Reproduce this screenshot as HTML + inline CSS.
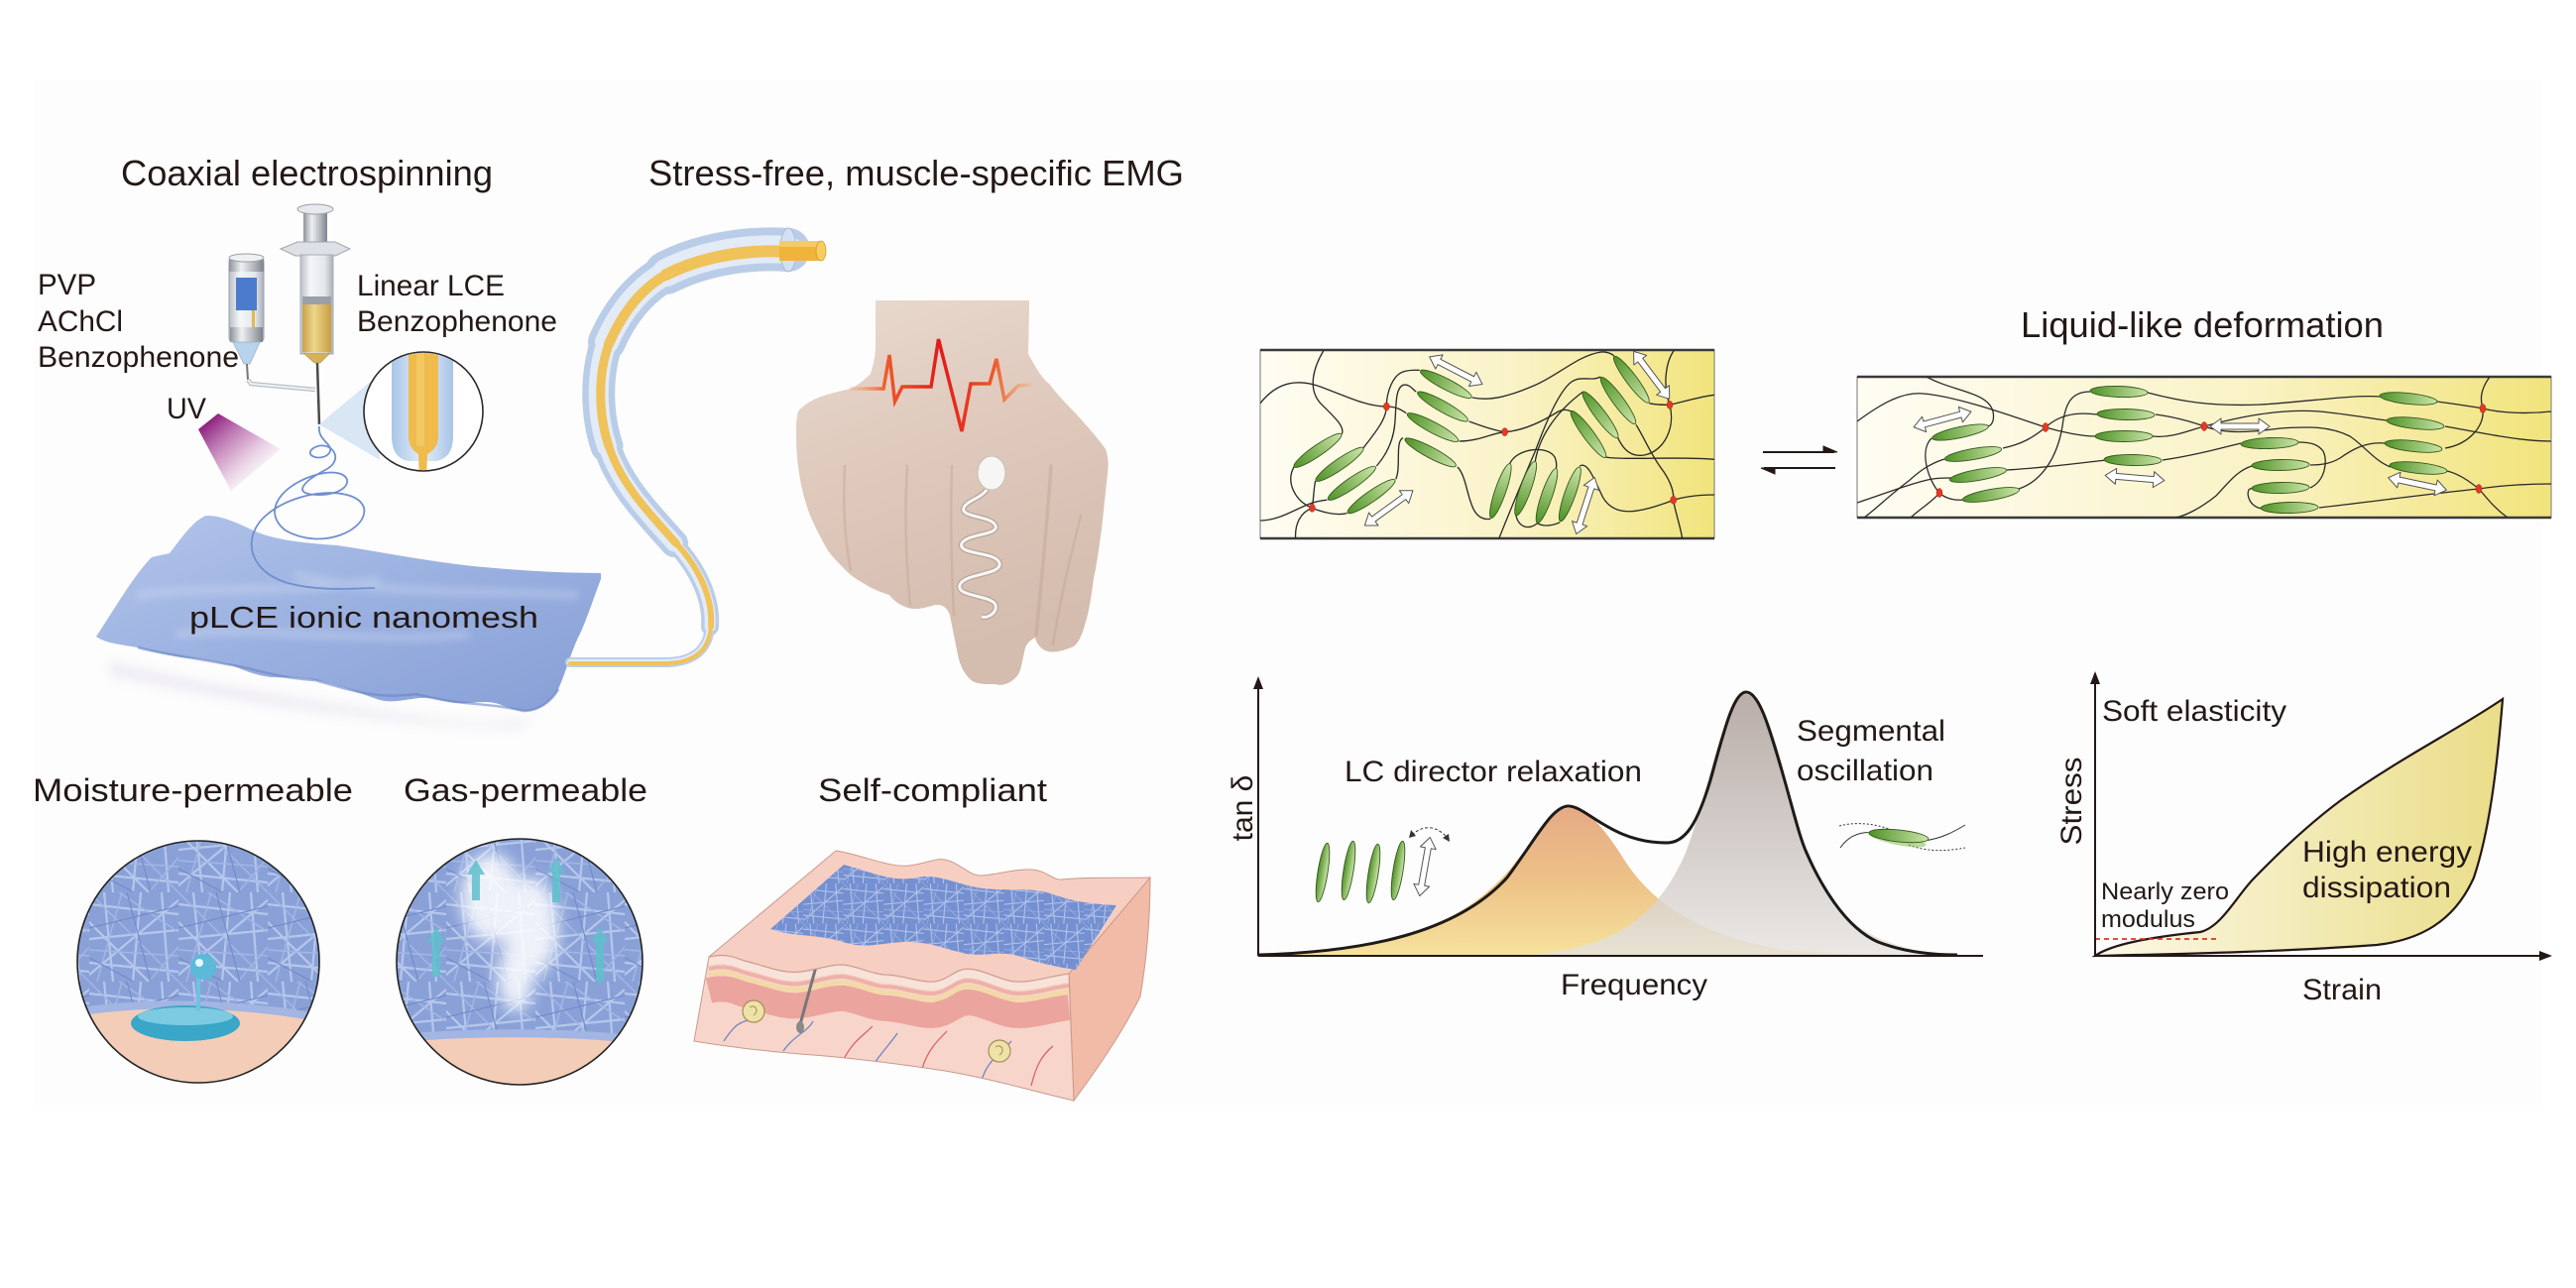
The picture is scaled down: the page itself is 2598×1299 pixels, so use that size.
<!DOCTYPE html>
<html>
<head>
<meta charset="utf-8">
<style>
html,body{margin:0;padding:0;background:#fff;}
svg{display:block;}
text{font-family:"Liberation Sans",Arial,sans-serif;fill:#231815;}
</style>
</head>
<body>
<svg xmlns="http://www.w3.org/2000/svg" xmlns:xlink="http://www.w3.org/1999/xlink" width="2598" height="1299" viewBox="0 0 2598 1299">
<defs>
  <linearGradient id="boxG" x1="0" x2="1" y1="0" y2="0">
    <stop offset="0" stop-color="#fffdf3"/><stop offset="0.55" stop-color="#faf3c8"/><stop offset="1" stop-color="#f1e47c"/>
  </linearGradient>
  <linearGradient id="eg" x1="0" x2="1" y1="0" y2="0">
    <stop offset="0" stop-color="#4e9226"/><stop offset="1" stop-color="#cbe5a8"/>
  </linearGradient>
  <linearGradient id="og" x1="0" y1="0" x2="0" y2="1">
    <stop offset="0" stop-color="#e6aa85"/><stop offset="0.5" stop-color="#edc287"/><stop offset="1" stop-color="#f6e29c"/>
  </linearGradient>
  <linearGradient id="gg" x1="0" y1="0" x2="0" y2="1">
    <stop offset="0" stop-color="#aa9c96"/><stop offset="1" stop-color="#e6e3e0"/>
  </linearGradient>
  <linearGradient id="sg" x1="0" x2="1" y1="0" y2="0">
    <stop offset="0" stop-color="#fcf9e8"/><stop offset="1" stop-color="#eadd88"/>
  </linearGradient>
  <linearGradient id="metal" x1="0" x2="1" y1="0" y2="0">
    <stop offset="0" stop-color="#8e949c"/><stop offset="0.35" stop-color="#eef0f2"/><stop offset="0.7" stop-color="#b4b9c0"/><stop offset="1" stop-color="#7d838b"/>
  </linearGradient>
  <linearGradient id="glass" x1="0" x2="1" y1="0" y2="0">
    <stop offset="0" stop-color="#b9bfc6"/><stop offset="0.3" stop-color="#f4f6f8"/><stop offset="0.75" stop-color="#e3e7eb"/><stop offset="1" stop-color="#a9afb7"/>
  </linearGradient>
  <linearGradient id="yel" x1="0" x2="1" y1="0" y2="0">
    <stop offset="0" stop-color="#caa24a"/><stop offset="0.4" stop-color="#ecd58a"/><stop offset="1" stop-color="#c99d42"/>
  </linearGradient>
  <linearGradient id="tubeB" x1="0" x2="1" y1="0" y2="0">
    <stop offset="0" stop-color="#a9c5e8"/><stop offset="0.5" stop-color="#e4edf8"/><stop offset="1" stop-color="#a9c5e8"/>
  </linearGradient>
  <linearGradient id="uv" x1="0.1" y1="0.1" x2="0.85" y2="0.9">
    <stop offset="0" stop-color="#8b1b7d"/><stop offset="0.5" stop-color="#c27ab5" stop-opacity="0.6"/><stop offset="1" stop-color="#f3e3f0" stop-opacity="0"/>
  </linearGradient>
  <linearGradient id="mesh" x1="0" y1="0" x2="1" y2="1">
    <stop offset="0" stop-color="#b2c5ea"/><stop offset="0.5" stop-color="#9ab0e0"/><stop offset="1" stop-color="#879fd6"/>
  </linearGradient>
  <linearGradient id="skin" x1="0" y1="0" x2="0.3" y2="1">
    <stop offset="0" stop-color="#e9dacf"/><stop offset="0.45" stop-color="#dfcabd"/><stop offset="1" stop-color="#d4bcae"/>
  </linearGradient>
  <radialGradient id="skinSh" cx="0.85" cy="0.72" r="0.45">
    <stop offset="0" stop-color="#b8937f" stop-opacity="0.45"/><stop offset="1" stop-color="#b8937f" stop-opacity="0"/>
  </radialGradient>
  <linearGradient id="emg" x1="0" x2="1" y1="0" y2="0">
    <stop offset="0" stop-color="#f6a86a" stop-opacity="0.3"/><stop offset="0.2" stop-color="#ee5a2a"/><stop offset="0.5" stop-color="#e4191a"/><stop offset="0.8" stop-color="#ee5a2a"/><stop offset="1" stop-color="#f6a86a" stop-opacity="0.3"/>
  </linearGradient>
  <pattern id="fib" width="90" height="90" patternUnits="userSpaceOnUse">
    <rect width="90" height="90" fill="#8aa1d8"/>
    <g fill="none" stroke-linecap="round">
      <path d="M0,12 L90,22 M0,47 L90,38 M0,71 L90,80 M15,0 L24,90 M52,0 L44,90 M73,0 L80,90 M0,83 L90,8 M0,30 L60,90" stroke="#b6c7ec" stroke-width="2.2"/>
      <path d="M0,0 L90,90 M0,58 L90,64 M33,0 L8,90 M90,40 L30,0 M60,90 L90,55" stroke="#a3b6e4" stroke-width="1.5"/>
      <path d="M0,36 L90,14 M38,0 L62,90 M0,66 L45,90" stroke="#7189c8" stroke-width="1.1"/>
    </g>
  </pattern>
  <pattern id="fib2" width="90" height="90" patternUnits="userSpaceOnUse" patternTransform="scale(0.45)">
    <rect width="90" height="90" fill="#7590d0"/>
    <g fill="none">
      <path d="M0,12 L90,22 M0,47 L90,38 M0,71 L90,80 M15,0 L24,90 M52,0 L44,90 M73,0 L80,90 M0,83 L90,8" stroke="#b3c4ec" stroke-width="2.4"/>
      <path d="M0,0 L90,90 M0,58 L90,64 M33,0 L8,90" stroke="#9db1e2" stroke-width="1.6"/>
    </g>
  </pattern>
  <filter id="blur6" x="-20%" y="-50%" width="140%" height="200%"><feGaussianBlur stdDeviation="6"/></filter>
  <filter id="blur4" x="-20%" y="-50%" width="140%" height="200%"><feGaussianBlur stdDeviation="4"/></filter>
  <filter id="blur8" x="-50%" y="-50%" width="200%" height="200%"><feGaussianBlur stdDeviation="8"/></filter>
  <path id="dbl" d="M-30,0 L-19,-8 L-19,-3 L19,-3 L19,-8 L30,0 L19,8 L19,3 L-19,3 L-19,8 Z" fill="#fff" stroke="#555" stroke-width="1" stroke-linejoin="round"/>
  <ellipse id="el" cx="0" cy="0" rx="29" ry="5.5" fill="url(#eg)" stroke="#35561e" stroke-width="0.9"/>
  <clipPath id="lbClip"><rect x="18" y="25" width="1374" height="570"/></clipPath>
  <clipPath id="rbClip"><rect x="1873" y="380" width="700" height="142"/></clipPath>
  <clipPath id="mag"><circle cx="427" cy="415" r="59"/></clipPath>
  <clipPath id="c1"><circle cx="200" cy="970" r="122"/></clipPath>
  <clipPath id="c2"><circle cx="524" cy="970" r="124"/></clipPath>
  <clipPath id="front"><path d="M715,965 C735,960 745,968 755,970 C775,975 790,982 807,980 C825,978 838,972 851,973 C868,975 880,983 895,983 C912,984 925,990 939,990 C955,990 962,978 975,977 C992,977 1010,990 1027,990 C1045,990 1060,984 1078,982 L1083,1110 C1040,1100 1000,1088 953,1080 C900,1072 850,1066 807,1063 C770,1060 730,1055 700,1050 Z"/></clipPath>
</defs>

<rect x="34" y="80" width="2530" height="1040" fill="#fdfdfd"/>

<text x="122" y="187" font-size="36" textLength="375" lengthAdjust="spacingAndGlyphs">Coaxial electrospinning</text>
<text x="654" y="187" font-size="36" textLength="540" lengthAdjust="spacingAndGlyphs">Stress-free, muscle-specific EMG</text>
<text x="38" y="297" font-size="30" textLength="59" lengthAdjust="spacingAndGlyphs">PVP</text>
<text x="38" y="334" font-size="30" textLength="86" lengthAdjust="spacingAndGlyphs">AChCl</text>
<text x="38" y="370" font-size="30" textLength="203" lengthAdjust="spacingAndGlyphs">Benzophenone</text>
<text x="360" y="298" font-size="30" textLength="149" lengthAdjust="spacingAndGlyphs">Linear LCE</text>
<text x="360" y="334" font-size="30" textLength="202" lengthAdjust="spacingAndGlyphs">Benzophenone</text>
<text x="168" y="422" font-size="30" textLength="40" lengthAdjust="spacingAndGlyphs">UV</text>

<polygon points="200,433 220,417 283,453 233,495" fill="url(#uv)"/>

<rect x="231" y="260" width="35" height="85" rx="4" fill="url(#glass)" stroke="#9aa0a8" stroke-width="1"/>
<rect x="231" y="260" width="35" height="14" fill="url(#metal)"/>
<ellipse cx="248.5" cy="260" rx="17.5" ry="4" fill="#eef0f2" stroke="#9aa0a8"/>
<rect x="238" y="280" width="21" height="33" fill="#4d7bcc"/>
<rect x="254" y="313" width="3" height="18" fill="#e2b84e"/>
<rect x="232" y="330" width="33" height="15" fill="url(#metal)"/>
<path d="M235,345 L262,345 L252,367 L246,367 Z" fill="#b8d4ec" stroke="#9ab0c8" stroke-width="0.8"/>
<line x1="249" y1="367" x2="250" y2="383" stroke="#777" stroke-width="2"/>
<path d="M250,383 L253,387 L318,393" fill="none" stroke="#b9bfc6" stroke-width="4.5"/>
<path d="M250,383 L253,387 L318,393" fill="none" stroke="#eef1f4" stroke-width="2"/>
<rect x="306" y="212" width="24" height="40" fill="url(#metal)"/>
<ellipse cx="318" cy="211" rx="18" ry="5" fill="#e7e9ec" stroke="#9aa0a8"/>
<path d="M283,251 L300,244 L338,244 L353,251 L338,258 L298,258 Z" fill="#dde1e6" stroke="#a0a6ae"/>
<rect x="303" y="257" width="33" height="100" fill="url(#glass)" stroke="#a8aeb6" stroke-width="1"/>
<rect x="305" y="299" width="29" height="8" fill="#9aa0a8"/>
<rect x="305" y="307" width="29" height="48" fill="url(#yel)"/>
<path d="M306,356 L333,356 L323,366 L317,366 Z" fill="#d4b15a" stroke="#b0944a" stroke-width="0.6"/>
<line x1="320" y1="366" x2="322" y2="428" stroke="#4a4a4a" stroke-width="2.5"/>

<polygon points="322,428 378,381 383,464" fill="#cfe1f2" opacity="0.8"/>
<circle cx="427" cy="415" r="60" fill="#fff"/>
<g clip-path="url(#mag)">
  <path d="M395,340 L395,440 Q395,462 412,465 L440,465 Q457,462 457,440 L457,340 Z" fill="url(#tubeB)"/>
  <path d="M412,340 L412,440 Q412,452 422,458 L423,485 L430,485 L431,458 Q442,452 442,440 L442,340 Z" fill="#eebb4c"/>
  <rect x="420" y="340" width="8" height="110" fill="#f4cd6e" opacity="0.7"/>
</g>
<circle cx="427" cy="415" r="60" fill="none" stroke="#2a2a2a" stroke-width="1.6"/>

<path d="M110,668 C200,690 300,705 420,722 C480,730 530,735 560,712 L520,735 C420,732 250,712 110,680 Z" fill="#c4bbd8" opacity="0.3" filter="url(#blur6)"/>
<path id="sheetP" d="M97,642 C115,615 135,580 153,562 L171,558 C185,540 195,525 208,520 C225,520 240,528 260,537 C280,545 310,548 340,550 C380,556 420,564 460,569 C500,574 560,578 606,578 L606,584 C598,605 590,630 583,643 C575,660 570,680 563,695 C555,710 540,718 528,717 C510,715 505,708 490,708 C470,708 465,712 440,705 C420,700 400,712 380,705 C360,698 340,690 318,686 C295,682 290,684 273,683 C250,680 240,672 229,670 C210,666 200,664 184,663 C165,660 150,656 139,653 C120,650 105,648 97,642 Z" fill="url(#mesh)"/>
<use xlink:href="#sheetP" fill="url(#fib)" opacity="0.22"/>
<g fill="none" stroke="#e4ebf8" stroke-width="8" opacity="0.3" stroke-linecap="round" filter="url(#blur4)">
  <path d="M140,600 C220,590 300,600 380,585"/>
  <path d="M180,640 C260,630 360,650 470,640"/>
  <path d="M300,580 C380,600 470,595 580,600"/>
</g>
<path d="M139,653 C165,660 200,664 229,670 C250,672 273,683 318,686 C360,698 380,705 420,700 C465,712 490,708 528,717 C545,717 558,705 563,695" fill="none" stroke="#6a86c6" stroke-width="2.5" opacity="0.6"/>
<text x="191" y="633" font-size="31" textLength="352" lengthAdjust="spacingAndGlyphs">pLCE ionic nanomesh</text>

<path d="M322,430 C320,445 338,448 332,457 C325,466 305,460 316,452 C332,442 350,463 328,474 C305,486 292,500 325,499 C360,497 358,470 322,478 C286,487 262,515 288,535 C325,556 372,534 367,512 C360,490 300,492 268,520 C245,540 248,575 290,588 C320,596 350,594 378,593" fill="none" stroke="#6f8fd0" stroke-width="1.8"/>

<g fill="none" stroke-linecap="round">
  <g stroke="#bacde8">
    <path d="M795,252 C750,249 705,258 672,275" stroke-width="44"/>
    <path d="M672,275 C645,290 625,315 612,345" stroke-width="38"/>
    <path d="M612,345 C600,380 602,420 612,450" stroke-width="33"/>
    <path d="M612,450 C625,490 655,520 680,548" stroke-width="28"/>
    <path d="M680,548 C705,575 718,605 716,632" stroke-width="18"/>
    <path d="M716,632 C714,655 700,668 670,668 L575,668" stroke-width="10"/>
  </g>
  <g stroke="#e3ebf6">
    <path d="M795,252 C750,249 705,258 672,275" stroke-width="28"/>
    <path d="M672,275 C645,290 625,315 612,345" stroke-width="24"/>
    <path d="M612,345 C600,380 602,420 612,450" stroke-width="20"/>
    <path d="M612,450 C625,490 655,520 680,548" stroke-width="17"/>
    <path d="M680,548 C705,575 718,605 716,632" stroke-width="11"/>
    <path d="M716,632 C714,655 700,668 670,668 L575,668" stroke-width="6"/>
  </g>
  <g stroke="#f0c25a">
    <path d="M795,254 C750,251 705,260 672,277" stroke-width="12"/>
    <path d="M672,277 C645,292 627,317 614,347" stroke-width="10"/>
    <path d="M614,347 C602,380 604,420 614,450" stroke-width="9"/>
    <path d="M614,450 C627,490 657,520 682,548" stroke-width="8"/>
    <path d="M682,548 C707,575 719,605 717,632" stroke-width="6"/>
    <path d="M717,632 C715,656 700,669 670,669 L575,669" stroke-width="4"/>
  </g>
</g>
<ellipse cx="795" cy="252" rx="8" ry="22" fill="#d3e0f1" stroke="#a9bcd8" stroke-width="1"/>
<rect x="786" y="243" width="42" height="20" fill="#f0b43a"/>
<rect x="786" y="243" width="42" height="6" fill="#f6cb63"/>
<ellipse cx="828" cy="253" rx="5" ry="10" fill="#f7cd62" stroke="#d89a2a" stroke-width="0.8"/>

<path id="handP" d="M883,303 L1038,303 L1037,357 C1045,372 1052,383 1058,387 C1068,400 1075,407 1081,413 C1095,428 1108,443 1115,453 C1118,462 1118,470 1117,477 L1111,533 C1108,555 1106,570 1103,583 C1100,605 1098,618 1094,630 C1090,645 1085,652 1080,653 C1070,657 1063,658 1057,657 C1050,655 1046,650 1044,643 C1040,645 1036,648 1034,653 C1031,665 1030,675 1027,680 C1020,690 1010,692 1004,690 C995,690 986,690 981,687 C972,680 968,670 966,660 L958,620 C955,612 950,609 943,610 C930,614 922,615 916,613 C906,610 900,604 897,600 C888,597 880,594 874,590 C865,585 857,580 851,573 C843,565 836,558 832,550 C825,537 820,527 816,517 C812,505 809,495 807,483 C804,467 803,450 803,433 C803,425 804,419 805,415 C812,407 820,403 828,400 C840,396 850,394 858,392 C866,388 872,383 878,377 C881,368 883,358 883,350 Z" fill="url(#skin)"/>
<use xlink:href="#handP" fill="url(#skinSh)"/>
<g fill="none" stroke="#bfa18f" stroke-linecap="round" opacity="0.4">
  <path d="M852,470 C850,510 852,545 858,575" stroke-width="2.5"/>
  <path d="M915,470 C912,520 914,570 918,610" stroke-width="2.5"/>
  <path d="M960,470 C958,530 960,580 962,620" stroke-width="2.5"/>
  <path d="M1060,470 C1056,530 1050,590 1045,640" stroke-width="3.5"/>
  <path d="M1090,520 C1080,560 1070,600 1062,650" stroke-width="2.5"/>
</g>
<polyline points="857,392 891,392 897,358 902.5,405 910,390 939,390 946.5,342 970,435 979,387 998,387 1005,362 1013,403 1027,389 1040,388" fill="none" stroke="url(#emg)" stroke-width="3.5" stroke-linejoin="miter"/>
<path d="M995,494 C990,502 975,505 972,512 C968,522 1000,520 1004,530 C1008,540 975,538 970,548 C965,560 1005,556 1008,568 C1011,580 972,578 968,590 C964,602 1000,600 1004,610 C1006,618 996,624 990,622" fill="none" stroke="#b7a69b" stroke-width="5.5"/>
<path d="M995,494 C990,502 975,505 972,512 C968,522 1000,520 1004,530 C1008,540 975,538 970,548 C965,560 1005,556 1008,568 C1011,580 972,578 968,590 C964,602 1000,600 1004,610 C1006,618 996,624 990,622" fill="none" stroke="#f7f7f5" stroke-width="3"/>
<ellipse cx="1000" cy="477" rx="14" ry="17" fill="#f6f6f4" stroke="#c8c0ba" stroke-width="1"/>

<text x="33" y="808" font-size="32" textLength="323" lengthAdjust="spacingAndGlyphs">Moisture-permeable</text>
<text x="407" y="808" font-size="32" textLength="246" lengthAdjust="spacingAndGlyphs">Gas-permeable</text>
<text x="825" y="808" font-size="32" textLength="231" lengthAdjust="spacingAndGlyphs">Self-compliant</text>

<g clip-path="url(#c1)">
  <rect x="70" y="840" width="260" height="260" fill="url(#fib)"/>
  <path d="M70,1022 C150,1008 250,1012 330,1028 L330,1100 L70,1100 Z" fill="#f3cdb8"/>
  <path d="M70,1022 C150,1008 250,1012 330,1028" fill="none" stroke="#a3b5e2" stroke-width="8"/>
  <ellipse cx="187" cy="1032" rx="55" ry="18" fill="#3aa6c8"/>
  <ellipse cx="187" cy="1025" rx="48" ry="9" fill="#8fd3ea" opacity="0.8"/>
  <line x1="200" y1="985" x2="200" y2="1020" stroke="#6cc4e2" stroke-width="4"/>
  <circle cx="205" cy="975" r="13" fill="#5bbad8"/>
  <circle cx="201" cy="971" r="4" fill="#e8f7fc"/>
</g>
<circle cx="200" cy="970" r="122" fill="none" stroke="#222" stroke-width="1.6"/>

<g clip-path="url(#c2)">
  <rect x="395" y="840" width="260" height="260" fill="url(#fib)"/>
  <path d="M395,1048 C470,1040 580,1040 655,1050 L655,1100 L395,1100 Z" fill="#f3cdb8"/>
  <path d="M395,1048 C470,1040 580,1040 655,1050" fill="none" stroke="#a3b5e2" stroke-width="8"/>
  <g fill="#ffffff" filter="url(#blur8)" opacity="0.85">
    <ellipse cx="495" cy="905" rx="30" ry="45"/>
    <ellipse cx="535" cy="935" rx="28" ry="50"/>
    <ellipse cx="520" cy="985" rx="18" ry="35"/>
  </g>
  <g fill="#5fc0cc" opacity="0.85">
    <path d="M436,985 L436,950 L431,950 L440,935 L449,950 L444,950 L444,985 Z"/>
    <path d="M476,908 L476,882 L471,882 L480,867 L489,882 L484,882 L484,908 Z"/>
    <path d="M557,910 L557,880 L552,880 L561,865 L570,880 L565,880 L565,910 Z"/>
    <path d="M601,990 L601,950 L596,950 L605,935 L614,950 L609,950 L609,990 Z"/>
  </g>
</g>
<circle cx="524" cy="970" r="124" fill="none" stroke="#222" stroke-width="1.6"/>

<path d="M1078,980 C1100,950 1135,905 1160,885 C1160,930 1156,970 1150,1005 C1130,1045 1105,1080 1083,1110 Z" fill="#f1bba8" stroke="#c99a8c" stroke-width="1"/>
<g clip-path="url(#front)">
  <rect x="690" y="950" width="400" height="170" fill="#f7d5ca"/>
  <g fill="none">
    <path d="M715,965 C735,960 745,968 755,970 C775,975 790,982 807,980 C825,978 838,972 851,973 C868,975 880,983 895,983 C912,984 925,990 939,990 C955,990 962,978 975,977 C992,977 1010,990 1027,990 C1045,990 1060,984 1078,982" transform="translate(0,34)" stroke="#eca49f" stroke-width="26"/>
    <path d="M715,965 C735,960 745,968 755,970 C775,975 790,982 807,980 C825,978 838,972 851,973 C868,975 880,983 895,983 C912,984 925,990 939,990 C955,990 962,978 975,977 C992,977 1010,990 1027,990 C1045,990 1060,984 1078,982" transform="translate(0,18)" stroke="#f3d9a8" stroke-width="5"/>
    <path d="M715,965 C735,960 745,968 755,970 C775,975 790,982 807,980 C825,978 838,972 851,973 C868,975 880,983 895,983 C912,984 925,990 939,990 C955,990 962,978 975,977 C992,977 1010,990 1027,990 C1045,990 1060,984 1078,982" transform="translate(0,12)" stroke="#eeb1a8" stroke-width="4"/>
    <path d="M715,965 C735,960 745,968 755,970 C775,975 790,982 807,980 C825,978 838,972 851,973 C868,975 880,983 895,983 C912,984 925,990 939,990 C955,990 962,978 975,977 C992,977 1010,990 1027,990 C1045,990 1060,984 1078,982" transform="translate(0,5)" stroke="#f8e3da" stroke-width="7"/>
  </g>
  <g fill="none" stroke-width="1.2">
    <path d="M730,1050 C740,1035 745,1030 760,1028 M790,1060 C800,1045 815,1040 820,1030" stroke="#6c7fc4"/>
    <path d="M850,1070 C860,1050 870,1045 880,1035 M930,1078 C935,1060 945,1050 955,1040 M1040,1095 C1045,1075 1050,1065 1062,1055" stroke="#d85a66"/>
    <path d="M880,1075 C890,1060 900,1050 905,1042 M990,1090 C995,1070 1010,1062 1020,1050" stroke="#6c7fc4"/>
  </g>
  <line x1="807" y1="1033" x2="829" y2="953" stroke="#777" stroke-width="3"/>
  <ellipse cx="807" cy="1036" rx="4" ry="6" fill="#8a8a8a"/>
  <circle cx="760" cy="1020" r="11" fill="#efe2a6" stroke="#a48d5c" stroke-width="1.2"/>
  <circle cx="1008" cy="1060" r="11" fill="#efe2a6" stroke="#a48d5c" stroke-width="1.2"/>
  <path d="M756,1016 C762,1012 766,1020 760,1024 M1004,1056 C1010,1052 1014,1060 1008,1064" fill="none" stroke="#a48d5c" stroke-width="1"/>
</g>
<path d="M715,965 C735,960 745,968 755,970 C775,975 790,982 807,980 C825,978 838,972 851,973 C868,975 880,983 895,983 C912,984 925,990 939,990 C955,990 962,978 975,977 C992,977 1010,990 1027,990 C1045,990 1060,984 1078,982 L1083,1110 C1040,1100 1000,1088 953,1080 C900,1072 850,1066 807,1063 C770,1060 730,1055 700,1050 Z" fill="none" stroke="#c99a8c" stroke-width="1"/>
<path d="M715,965 L843,858 C870,862 895,875 917,873 C935,871 943,865 953,867 C968,870 978,884 990,883 C1005,882 1025,876 1041,877 C1055,878 1062,888 1071,887 C1100,884 1130,886 1160,885 L1078,982 C1060,984 1045,990 1027,990 C1010,990 992,977 975,977 C962,978 955,990 939,990 C925,990 912,984 895,983 C880,983 868,975 851,973 C838,972 825,978 807,980 C790,982 775,975 755,970 C745,968 735,960 715,965 Z" fill="#f6cfc2" stroke="#c99a8c" stroke-width="1"/>
<path d="M777,937 L851,872 C880,880 900,890 925,885 C945,881 960,890 985,895 C1010,900 1040,893 1065,903 C1085,910 1105,912 1126,913 L1085,978 C1065,975 1050,972 1030,965 C1010,958 995,965 975,962 C955,958 940,950 915,950 C890,950 875,958 850,950 C825,942 800,945 777,937 Z" fill="url(#fib2)"/>

<text x="2038" y="340" font-size="36" textLength="366" lengthAdjust="spacingAndGlyphs">Liquid-like deformation</text>

<rect x="1271" y="353" width="458" height="190" fill="url(#boxG)" stroke="#777" stroke-width="1"/>
<line x1="1271" y1="353" x2="1729" y2="353" stroke="#3a3a3a" stroke-width="2.5"/>
<line x1="1271" y1="543" x2="1729" y2="543" stroke="#3a3a3a" stroke-width="2.5"/>
<g transform="translate(1265,345) scale(0.333333)">
  <g clip-path="url(#lbClip)" fill="none" stroke="#2a2a2a" stroke-width="4">
    <path d="M18,185 C70,120 130,110 200,135 C280,165 340,195 400,195 C430,195 445,205 460,215"/>
    <path d="M620,300 C680,300 720,275 758,272 C820,268 880,235 920,210 C935,202 950,205 960,210"/>
    <path d="M1062,348 C1120,358 1300,345 1392,355"/>
    <path d="M210,25 C180,75 160,140 200,185 C240,225 275,255 265,278"/>
    <path d="M120,378 C95,420 120,480 175,502 C215,518 255,525 280,518"/>
    <path d="M428,415 C445,380 425,300 450,290"/>
    <path d="M615,378 C655,420 640,545 715,535"/>
    <path d="M773,368 C795,320 890,310 910,350 C915,365 915,375 913,382"/>
    <path d="M857,548 C875,560 905,555 925,545"/>
    <path d="M985,375 C1010,360 1030,420 1055,470 C1090,530 1160,520 1268,478 C1310,465 1350,462 1392,462"/>
    <path d="M125,595 C122,550 140,515 175,502 C180,470 180,440 185,420"/>
    <path d="M330,320 C370,270 400,230 400,195 C400,150 420,100 450,90 C470,83 490,85 500,85"/>
    <path d="M660,168 C720,180 780,160 850,130 C920,100 980,40 1050,30 C1070,28 1085,38 1088,42"/>
    <path d="M1195,185 C1215,190 1240,190 1257,190 C1300,180 1350,165 1392,160"/>
    <path d="M18,540 C80,540 130,500 180,485 C200,480 215,478 220,478"/>
    <path d="M370,375 C400,340 420,300 425,250 C430,200 425,140 450,130 C470,125 480,145 490,150"/>
    <path d="M650,240 C690,255 730,268 758,272"/>
    <path d="M1270,25 C1245,60 1235,130 1257,190 C1275,260 1240,330 1180,342 C1130,350 1110,310 1100,290"/>
    <path d="M740,595 C770,520 820,400 850,330 C880,250 920,150 960,120 C990,100 1020,120 1048,105"/>
    <path d="M1155,250 C1180,290 1200,340 1230,380 C1260,420 1270,450 1268,478 C1275,520 1290,560 1295,595"/>
    <path d="M850,360 C860,300 900,220 995,150"/>
    <path d="M792,525 C800,560 830,570 857,548"/>
  </g>
  <use xlink:href="#el" transform="translate(192,328) rotate(-34.6) scale(3)"/>
  <use xlink:href="#el" transform="translate(258,370) rotate(-34.6) scale(3)"/>
  <use xlink:href="#el" transform="translate(295,427) rotate(-34.5) scale(3)"/>
  <use xlink:href="#el" transform="translate(354,467) rotate(-34.8) scale(3)"/>
  <use xlink:href="#el" transform="translate(580,127) rotate(27.4) scale(3)"/>
  <use xlink:href="#el" transform="translate(570,195) rotate(29.4) scale(3)"/>
  <use xlink:href="#el" transform="translate(540,258) rotate(28) scale(3)"/>
  <use xlink:href="#el" transform="translate(533,334) rotate(28) scale(3)"/>
  <use xlink:href="#el" transform="translate(745,450) rotate(-71) scale(3)"/>
  <use xlink:href="#el" transform="translate(821,443) rotate(-70.6) scale(3)"/>
  <use xlink:href="#el" transform="translate(885,465) rotate(-71) scale(3)"/>
  <use xlink:href="#el" transform="translate(955,460) rotate(-70.6) scale(3)"/>
  <use xlink:href="#el" transform="translate(1011,279) rotate(53.5) scale(3)"/>
  <use xlink:href="#el" transform="translate(1047,220) rotate(53) scale(3)"/>
  <use xlink:href="#el" transform="translate(1101,177) rotate(53.6) scale(3)"/>
  <use xlink:href="#el" transform="translate(1141,113) rotate(53.2) scale(3)"/>
  <g fill="#e23a26" stroke="#b02010" stroke-width="1.5">
    <ellipse cx="400" cy="195" rx="9" ry="12"/>
    <ellipse cx="758" cy="272" rx="9" ry="12"/>
    <ellipse cx="1257" cy="190" rx="9" ry="12"/>
    <ellipse cx="175" cy="502" rx="9" ry="12"/>
    <ellipse cx="1268" cy="478" rx="9" ry="12"/>
  </g>
  <use xlink:href="#dbl" transform="translate(610,86) rotate(27.4) scale(3)"/>
  <use xlink:href="#dbl" transform="translate(1202,100) rotate(53) scale(3)"/>
  <use xlink:href="#dbl" transform="translate(407,502) rotate(-36) scale(3)"/>
  <use xlink:href="#dbl" transform="translate(1002,495) rotate(-72) scale(3)"/>
</g>

<line x1="1778" y1="456" x2="1850" y2="456" stroke="#231815" stroke-width="2"/>
<path d="M1853,456 L1839,450 L1839,456 Z" fill="#231815" stroke="#231815" stroke-width="1"/>
<line x1="1779" y1="472" x2="1851" y2="472" stroke="#231815" stroke-width="2"/>
<path d="M1776,472 L1790,478 L1790,472 Z" fill="#231815" stroke="#231815" stroke-width="1"/>

<rect x="1873" y="380" width="700" height="142" fill="url(#boxG)" stroke="#777" stroke-width="1"/>
<line x1="1873" y1="380" x2="2573" y2="380" stroke="#3a3a3a" stroke-width="2.5"/>
<line x1="1873" y1="522" x2="2573" y2="522" stroke="#3a3a3a" stroke-width="2.5"/>
<g clip-path="url(#rbClip)" fill="none" stroke="#2a2a2a" stroke-width="1.3">
  <path d="M1873,425 C1900,405 1920,395 1940,397 C1975,400 2030,420 2063,431 C2080,436 2100,440 2113,440"/>
  <path d="M2171,440 C2190,442 2205,435 2223,430 C2260,420 2300,412 2340,415 C2370,418 2390,422 2407,424"/>
  <path d="M2466,430 C2500,436 2540,445 2573,445"/>
  <path d="M1943,380 C1970,395 2005,395 2010,415 C2012,425 2008,430 2004,430"/>
  <path d="M1948,442 C1935,455 1945,485 1956,497 C1962,503 1972,505 1980,504"/>
  <path d="M2036,493 C2060,485 2075,460 2080,430 C2083,405 2090,395 2108,395"/>
  <path d="M2166,396 C2200,405 2230,410 2280,408 C2330,405 2370,398 2401,400"/>
  <path d="M2458,405 C2480,408 2495,410 2504,412 C2520,416 2545,418 2573,415"/>
  <path d="M2511,380 C2500,395 2502,405 2504,412 C2506,430 2490,448 2466,452"/>
  <path d="M2405,447 C2385,445 2370,455 2360,462 C2350,468 2340,469 2330,469"/>
  <path d="M2271,470 C2255,475 2245,490 2235,500 C2220,512 2205,520 2194,522"/>
  <path d="M1873,507 C1895,500 1920,490 1940,485 C1950,482 1960,482 1968,482"/>
  <path d="M2020,452 C2040,448 2052,440 2063,431 C2075,420 2090,415 2115,418"/>
  <path d="M2174,418 C2190,420 2210,425 2223,430 C2245,438 2270,436 2300,432 C2330,430 2350,430 2370,440 C2385,450 2395,465 2411,471"/>
  <path d="M2468,475 C2480,478 2490,485 2500,493 C2508,502 2515,512 2529,522"/>
  <path d="M2500,493 C2520,490 2545,488 2573,488"/>
  <path d="M2500,493 C2450,498 2400,505 2339,512"/>
  <path d="M2282,513 C2270,512 2265,500 2268,494 C2270,492 2272,492 2274,492"/>
  <path d="M2330,492 C2345,485 2348,465 2343,455 C2338,448 2330,446 2318,446"/>
  <path d="M2260,447 C2240,452 2210,460 2181,464"/>
  <path d="M2124,464 C2090,468 2060,472 2024,474"/>
  <path d="M1927,522 C1938,512 1950,505 1956,497"/>
  <path d="M1961,463 C1945,468 1935,476 1925,485 C1905,500 1890,515 1880,522"/>
</g>
<use xlink:href="#el" transform="translate(1977,436) rotate(-12)"/>
<use xlink:href="#el" transform="translate(1990,458) rotate(-10)"/>
<use xlink:href="#el" transform="translate(1995,479) rotate(-10)"/>
<use xlink:href="#el" transform="translate(2008,499) rotate(-10)"/>
<use xlink:href="#el" transform="translate(2137,395) rotate(2)"/>
<use xlink:href="#el" transform="translate(2144,418) rotate(1)"/>
<use xlink:href="#el" transform="translate(2142,440) rotate(0)"/>
<use xlink:href="#el" transform="translate(2151,464) rotate(1)"/>
<use xlink:href="#el" transform="translate(2289,447) rotate(-2)"/>
<use xlink:href="#el" transform="translate(2300,469) rotate(-1)"/>
<use xlink:href="#el" transform="translate(2300,492) rotate(-1)"/>
<use xlink:href="#el" transform="translate(2309,512) rotate(-1)"/>
<use xlink:href="#el" transform="translate(2429,402) rotate(6)"/>
<use xlink:href="#el" transform="translate(2436,427) rotate(6)"/>
<use xlink:href="#el" transform="translate(2434,450) rotate(6)"/>
<use xlink:href="#el" transform="translate(2439,472) rotate(6)"/>
<g fill="#e23a26" stroke="#b02010" stroke-width="0.5">
  <ellipse cx="2063" cy="431" rx="3" ry="4.5"/>
  <ellipse cx="2223" cy="430" rx="3" ry="4.5"/>
  <ellipse cx="2504" cy="412" rx="3" ry="4.5"/>
  <ellipse cx="1956" cy="497" rx="3" ry="4.5"/>
  <ellipse cx="2500" cy="493" rx="3" ry="4.5"/>
</g>
<use xlink:href="#dbl" transform="translate(1959,423) rotate(-15)"/>
<use xlink:href="#dbl" transform="translate(2153,482) rotate(5)"/>
<use xlink:href="#dbl" transform="translate(2259,430) rotate(0)"/>
<use xlink:href="#dbl" transform="translate(2438,488) rotate(12)"/>

<path d="M1290,963 C1400,958 1470,935 1520,880 C1550,845 1565,815 1582,815 C1600,815 1615,830 1640,870 C1670,915 1720,945 1800,958 C1850,962 1900,963 1920,963 Z" fill="url(#og)"/>
<path d="M1540,963 C1620,958 1670,930 1700,860 C1720,810 1740,700 1761,700 C1780,700 1795,760 1812,830 C1835,920 1880,958 1974,963 Z" fill="url(#gg)" opacity="0.82"/>
<path d="M1269,963 C1380,960 1470,940 1520,885 C1550,845 1565,813 1582,813 C1600,813 1625,850 1681,850 C1700,850 1712,830 1725,787 C1738,740 1748,698 1761,698 C1775,698 1786,740 1797,777 C1808,815 1815,845 1822,860 C1835,890 1860,935 1894,950 C1920,960 1950,963 1974,963" fill="none" stroke="#1e1a18" stroke-width="3"/>
<line x1="1269" y1="964" x2="2000" y2="964" stroke="#231815" stroke-width="2"/>
<line x1="1269" y1="964" x2="1269" y2="690" stroke="#231815" stroke-width="2"/>
<path d="M1269,682 L1264,695 L1274,695 Z" fill="#231815"/>
<text transform="translate(1263,815) rotate(-90)" font-size="30" text-anchor="middle">tan δ</text>
<text x="1356" y="788" font-size="30" textLength="300" lengthAdjust="spacingAndGlyphs">LC director relaxation</text>
<text x="1812" y="747" font-size="30" textLength="150" lengthAdjust="spacingAndGlyphs">Segmental</text>
<text x="1812" y="787" font-size="30" textLength="138" lengthAdjust="spacingAndGlyphs">oscillation</text>
<text x="1574" y="1003" font-size="30" textLength="148" lengthAdjust="spacingAndGlyphs">Frequency</text>
<g fill="url(#eg)" stroke="#35561e" stroke-width="0.9">
  <ellipse cx="0" cy="0" rx="5" ry="30" transform="translate(1334,880) rotate(9)"/>
  <ellipse cx="0" cy="0" rx="5" ry="30" transform="translate(1360,878) rotate(9)"/>
  <ellipse cx="0" cy="0" rx="5" ry="30" transform="translate(1385,881) rotate(9)"/>
  <ellipse cx="0" cy="0" rx="5" ry="30" transform="translate(1410,878) rotate(9)"/>
</g>
<use xlink:href="#dbl" transform="translate(1437,874) rotate(-80)"/>
<path d="M1424,842 Q1442,826 1460,845" fill="none" stroke="#333" stroke-width="1" stroke-dasharray="3,2"/>
<path d="M1421,845 L1423,837 L1428,843 Z M1462,849 L1455,845 L1461,841 Z" fill="#333"/>
<path d="M1856,855 C1865,842 1878,838 1892,840" fill="none" stroke="#333" stroke-width="1"/>
<path d="M1940,848 C1958,846 1972,838 1982,832" fill="none" stroke="#333" stroke-width="1"/>
<path d="M1855,833 C1870,829 1888,830 1905,836 M1925,852 C1945,860 1965,858 1982,855" fill="none" stroke="#333" stroke-width="1" stroke-dasharray="2,2"/>
<ellipse cx="0" cy="0" rx="30" ry="6" transform="translate(1913,846) rotate(12)" fill="#8cc45a" opacity="0.6"/>
<ellipse cx="0" cy="0" rx="30" ry="6" transform="translate(1915,843) rotate(6)" fill="url(#eg)" stroke="#35561e" stroke-width="0.9"/>

<path d="M2113,964 C2130,952 2170,945 2219,940 C2240,935 2255,905 2272,887 C2300,858 2330,830 2361,807 C2420,765 2480,735 2524,705 C2518,780 2510,840 2495,885 C2475,930 2440,948 2397,953 C2300,960 2200,962 2113,964 Z" fill="url(#sg)" stroke="#231815" stroke-width="2.2"/>
<line x1="2113" y1="947" x2="2238" y2="947" stroke="#d9342b" stroke-width="1.8" stroke-dasharray="5,4"/>
<line x1="2113" y1="964" x2="2565" y2="964" stroke="#231815" stroke-width="2"/>
<path d="M2574,964 L2561,959 L2561,969 Z" fill="#231815"/>
<line x1="2113" y1="964" x2="2113" y2="686" stroke="#231815" stroke-width="2"/>
<path d="M2113,677 L2108,690 L2118,690 Z" fill="#231815"/>
<text x="2120" y="727" font-size="30" textLength="186" lengthAdjust="spacingAndGlyphs">Soft elasticity</text>
<text transform="translate(2099,808) rotate(-90)" font-size="30" text-anchor="middle" textLength="89" lengthAdjust="spacingAndGlyphs">Stress</text>
<text x="2119" y="907" font-size="24" textLength="129" lengthAdjust="spacingAndGlyphs">Nearly zero</text>
<text x="2119" y="935" font-size="24" textLength="95" lengthAdjust="spacingAndGlyphs">modulus</text>
<text x="2322" y="869" font-size="30" textLength="171" lengthAdjust="spacingAndGlyphs">High energy</text>
<text x="2322" y="905" font-size="30" textLength="150" lengthAdjust="spacingAndGlyphs">dissipation</text>
<text x="2322" y="1008" font-size="30" textLength="80" lengthAdjust="spacingAndGlyphs">Strain</text>
</svg>
</body>
</html>
